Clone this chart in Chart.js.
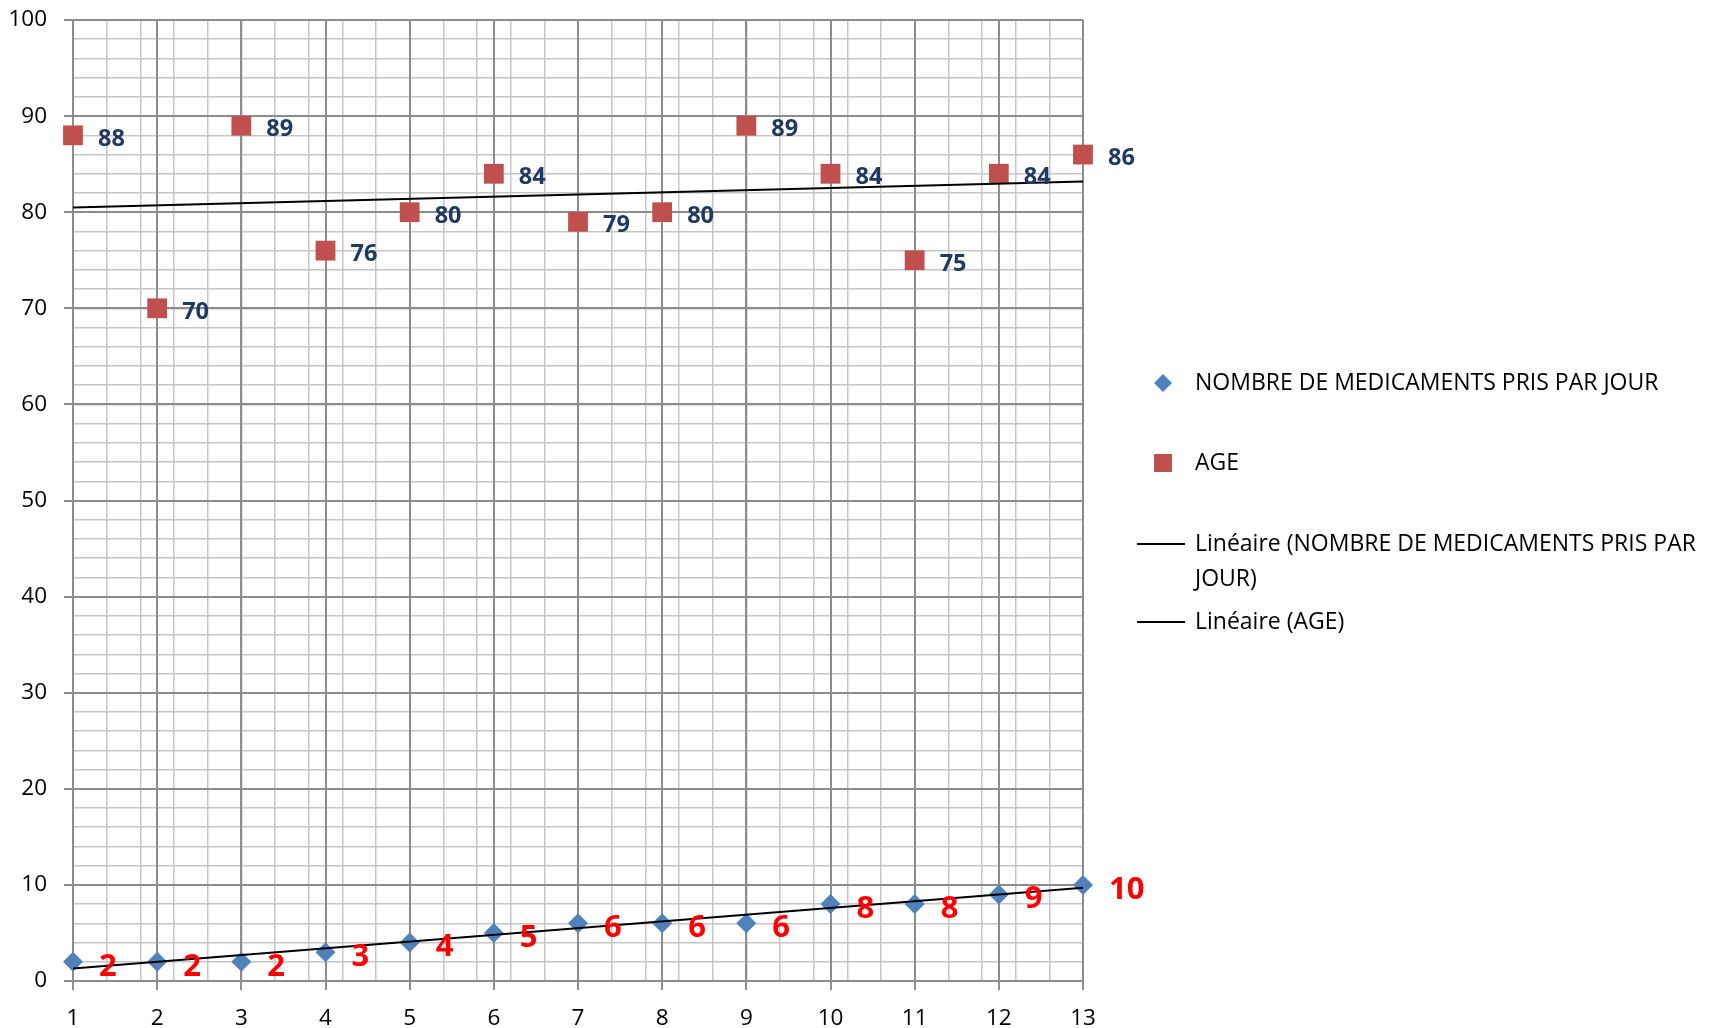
<!DOCTYPE html>
<html><head><meta charset="utf-8">
<script src="https://cdn.jsdelivr.net/npm/chart.js@4.4.1/dist/chart.umd.min.js"></script>
<style>html,body{margin:0;padding:0;background:#fff;} #wrap{width:1710px;height:1028px;position:relative;}</style>
</head><body><div id="wrap"><canvas id="c"></canvas></div>
<script>
// ---- data ----
const xValues = [1,2,3,4,5,6,7,8,9,10,11,12,13];
const medicaments = [2,2,2,3,4,5,6,6,6,8,8,9,10];
const ages = [88,70,89,76,80,84,79,80,89,84,75,84,86];
const trendX = [1, 13];
const trendMedicaments = [1.3, 9.7];
const trendAges = [80.5, 83.2];
const seriesMed = 'NOMBRE DE MEDICAMENTS PRIS PAR JOUR';
const seriesAge = 'AGE';
const trendMedName = 'Linéaire (NOMBRE DE MEDICAMENTS PRIS PAR JOUR)';
const trendAgeName = 'Linéaire (AGE)';

const FONT = "'Open Sans', 'DejaVu Sans', sans-serif";
const MAJOR = '#8c8c8c', MINOR = '#c6c6c6';

const pts = (xs, ys) => xs.map((x, i) => ({x: x, y: ys[i]}));

const pointLabels = {
  id: 'pointLabels',
  afterDatasetsDraw(chart) {
    const ctx = chart.ctx;
    chart.data.datasets.forEach((ds, i) => {
      if (!ds.valueLabel) return;
      const meta = chart.getDatasetMeta(i);
      ctx.save();
      ctx.font = ds.valueLabel.font;
      ctx.fillStyle = ds.valueLabel.color;
      ctx.textAlign = 'left';
      ctx.textBaseline = 'middle';
      meta.data.forEach((el, j) => {
        ctx.fillText(String(ds.data[j].y), el.x + ds.valueLabel.dx, el.y + ds.valueLabel.dy);
      });
      ctx.restore();
    });
  }
};

const sideLegend = {
  id: 'sideLegend',
  afterDraw(chart) {
    const ctx = chart.ctx;
    const a = chart.chartArea;
    const mx = a.right + 80, tx = a.right + 112;
    const ds = chart.data.datasets;
    ctx.save();
    ctx.font = '23px ' + FONT;
    ctx.textAlign = 'left';
    ctx.textBaseline = 'middle';
    const rows = [
      {d: ds[0], y: a.top + 363},
      {d: ds[1], y: a.top + 443},
      {d: ds[2], y: a.top + 524},
      {d: ds[3], y: a.top + 602}
    ];
    rows.forEach(r => {
      const d = r.d;
      if (d.showLine) {
        ctx.strokeStyle = d.borderColor; ctx.lineWidth = 2;
        ctx.beginPath(); ctx.moveTo(a.right + 54, r.y); ctx.lineTo(a.right + 102, r.y); ctx.stroke();
      } else if (d.pointStyle === 'rectRot') {
        ctx.fillStyle = d.backgroundColor;
        ctx.beginPath(); ctx.moveTo(mx - 9, r.y); ctx.lineTo(mx, r.y - 9); ctx.lineTo(mx + 9, r.y); ctx.lineTo(mx, r.y + 9); ctx.closePath(); ctx.fill();
      } else {
        ctx.fillStyle = d.backgroundColor;
        ctx.fillRect(mx - 9, r.y - 9, 18, 18);
      }
      ctx.fillStyle = '#000';
      const words = d.label.split(' ');
      const maxW = 535;
      let line = '', yy = r.y;
      words.forEach(w => {
        const test = line ? line + ' ' + w : w;
        if (ctx.measureText(test).width > maxW && line) {
          ctx.fillText(line, tx, yy); line = w; yy += 35;
        } else line = test;
      });
      ctx.fillText(line, tx, yy);
    });
    ctx.restore();
  }
};

new Chart(document.getElementById('c'), {
  type: 'scatter',
  data: {
    datasets: [
      { label: seriesMed, data: pts(xValues, medicaments), pointStyle: 'rectRot', pointRadius: 10, pointHoverRadius: 10,
        backgroundColor: '#4F81BD', borderColor: '#4F81BD', borderWidth: 0, order: 1, clip: false,
        valueLabel: {font: 'bold 31px ' + FONT, color: '#FF0000', dx: 26, dy: 5} },
      { label: seriesAge, data: pts(xValues, ages), pointStyle: 'rect', pointRadius: 14, pointHoverRadius: 14,
        backgroundColor: '#C0504D', borderColor: '#C0504D', borderWidth: 0, order: 1, clip: false,
        valueLabel: {font: 'bold 23.5px ' + FONT, color: '#1F3864', dx: 25, dy: 4} },
      { label: trendMedName, data: pts(trendX, trendMedicaments), showLine: true, pointRadius: 0,
        borderColor: '#000', borderWidth: 2, order: 0 },
      { label: trendAgeName, data: pts(trendX, trendAges), showLine: true, pointRadius: 0,
        borderColor: '#000', borderWidth: 2, order: 0 }
    ]
  },
  options: {
    responsive: true, maintainAspectRatio: false, animation: false,
    layout: { padding: { top: 20, right: 627, left: 0, bottom: 0 } },
    plugins: { legend: { display: false }, tooltip: { enabled: false } },
    scales: {
      x: { type: 'linear', min: 1, max: 13, position: 'bottom',
        afterFit: s => { s.height = 47; s.paddingLeft = 0; s.paddingRight = 0; },
        ticks: { stepSize: 1, color: '#000', font: { family: FONT, size: 22.5 }, padding: 15 },
        grid: { color: MAJOR, lineWidth: 2, tickLength: 9, z: -1 },
        border: { color: MAJOR, width: 2 } },
      x2: { type: 'linear', min: 1, max: 13, position: 'bottom',
        afterFit: s => { s.height = 0; },
        afterBuildTicks: s => { const t = []; for (let i = 0; i <= 30; i++) t.push({value: Math.round((1 + i * 0.4) * 1000) / 1000}); s.ticks = t; },
        ticks: { display: false },
        grid: { color: MINOR, lineWidth: 1.5, drawTicks: false, z: -2 },
        border: { display: false } },
      y: { type: 'linear', min: 0, max: 100, position: 'left',
        afterFit: s => { s.width = 73; s.paddingTop = 0; s.paddingBottom = 0; },
        ticks: { stepSize: 10, color: '#000', font: { family: FONT, size: 22.5 }, padding: 17 },
        grid: { color: MAJOR, lineWidth: 2, tickLength: 9, z: -1 },
        border: { color: MAJOR, width: 2 } },
      y2: { type: 'linear', min: 0, max: 100, position: 'left',
        afterFit: s => { s.width = 0; s.paddingTop = 0; s.paddingBottom = 0; },
        ticks: { display: false, stepSize: 2 },
        grid: { color: MINOR, lineWidth: 1.5, drawTicks: false, z: -2 },
        border: { display: false } }
    }
  },
  plugins: [pointLabels, sideLegend]
});
</script>
</body></html>
